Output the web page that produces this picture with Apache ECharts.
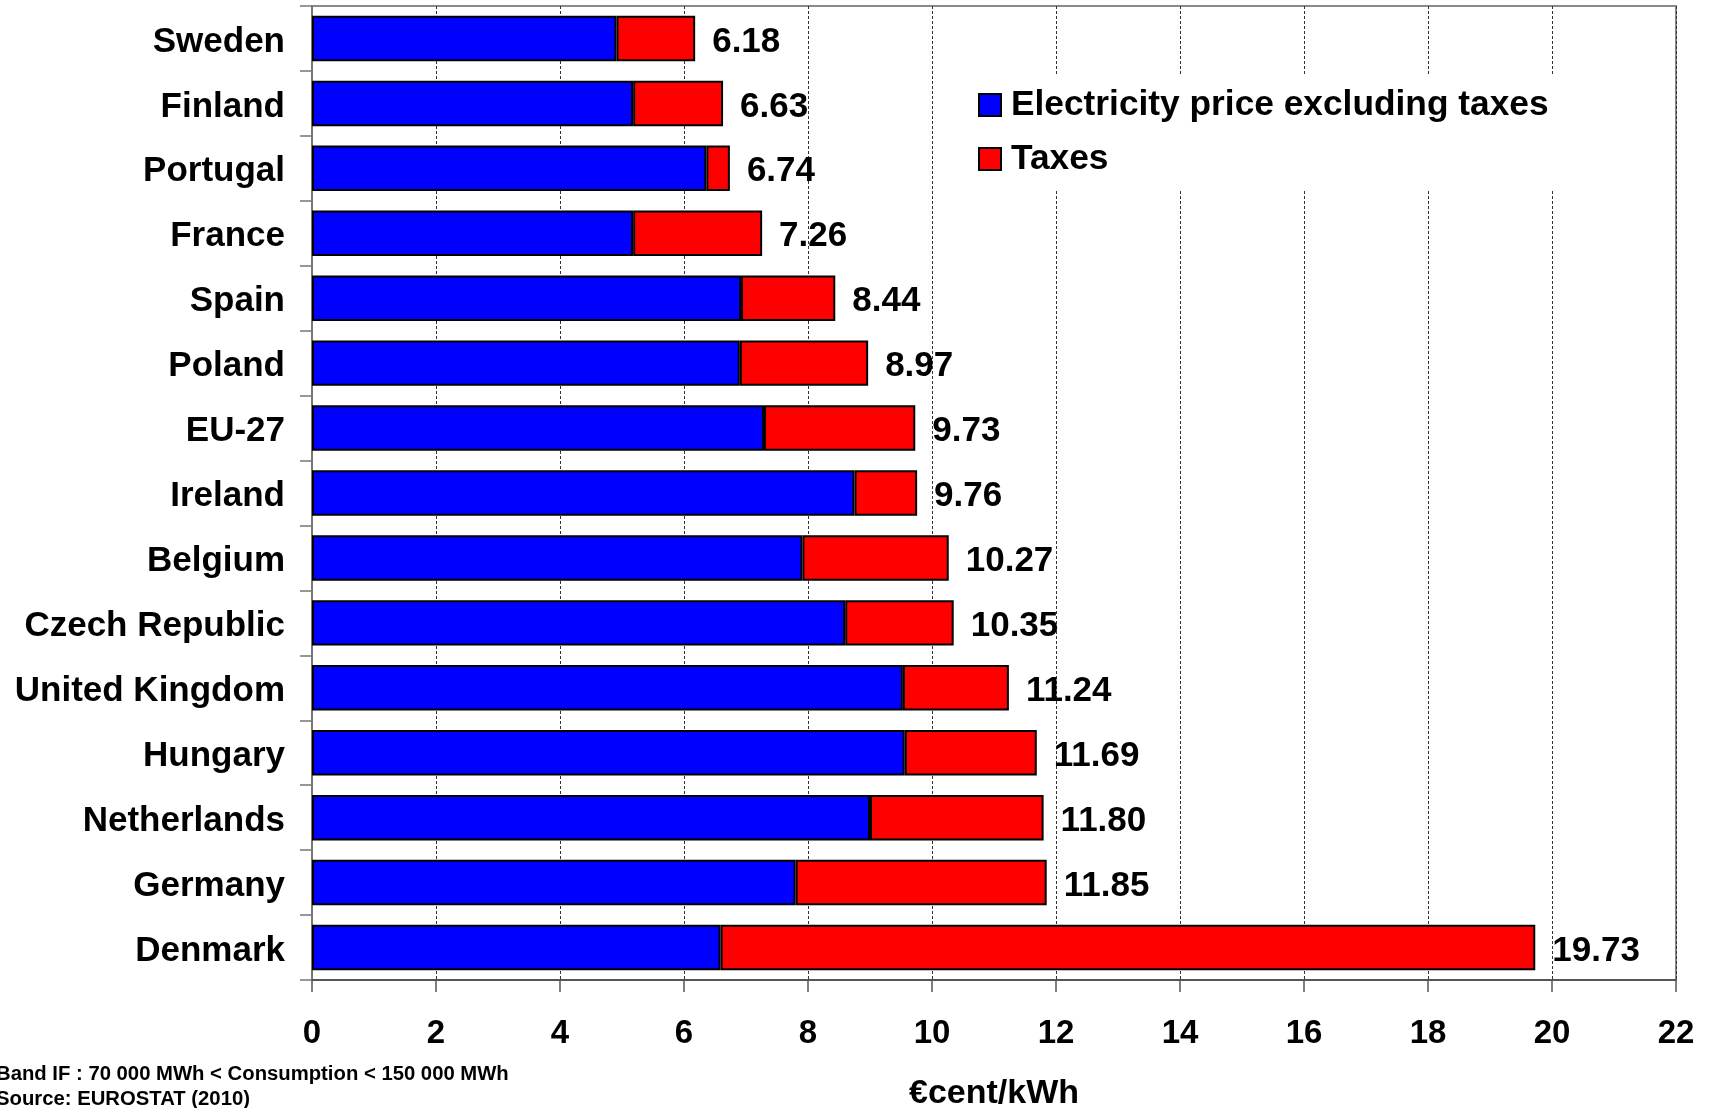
<!DOCTYPE html>
<html>
<head>
<meta charset="utf-8">
<title>Electricity prices for industrial consumers</title>
<script src="https://cdn.jsdelivr.net/npm/echarts@6/dist/echarts.min.js"></script>
<style>
  html, body { margin: 0; padding: 0; background: #fff; }
  #chart { width: 1712px; height: 1108px; }
</style>
</head>
<body>
<div id="chart"></div>
<script>
// Electricity prices, Band IF, in €cent/kWh
const countries = ['Sweden', 'Finland', 'Portugal', 'France', 'Spain', 'Poland', 'EU-27', 'Ireland',
  'Belgium', 'Czech Republic', 'United Kingdom', 'Hungary', 'Netherlands', 'Germany', 'Denmark'];
const priceExTax = [4.91, 5.18, 6.36, 5.18, 6.92, 6.90, 7.29, 8.75, 7.91, 8.60, 9.53, 9.56, 9.00, 7.80, 6.59];
const totals = [6.18, 6.63, 6.74, 7.26, 8.44, 8.97, 9.73, 9.76, 10.27, 10.35, 11.24, 11.69, 11.80, 11.85, 19.73];
const xTicks = [0, 2, 4, 6, 8, 10, 12, 14, 16, 18, 20, 22];
const footnotes = ['Band IF : 70 000 MWh < Consumption < 150 000 MWh', 'Source: EUROSTAT (2010)'];

// tax share = total price minus price excluding taxes
const taxes = totals.map((t, i) => +(t - priceExTax[i]).toFixed(2));

const FONT = '"Liberation Sans", Arial, sans-serif';
// bold label text, nudged down a little so the caps sit on the bar centre
const labelText = { fontFamily: FONT, fontWeight: 'bold', fontSize: 35, color: '#000', padding: [7, 0, 0, 0] };

const chart = echarts.init(document.getElementById('chart'), null, { renderer: 'canvas' });
chart.setOption({
  animation: false,
  backgroundColor: '#fff',
  textStyle: { fontFamily: FONT },
  grid: {
    left: 312, right: 36, top: 6, bottom: 128,
    outerBoundsMode: 'none',
    show: true, borderColor: '#8a8a8a', borderWidth: 2, backgroundColor: 'transparent'
  },
  legend: {
    orient: 'vertical',
    left: 965, top: 74,
    padding: [13, 14, 13, 13],
    backgroundColor: '#fff',
    itemWidth: 22, itemHeight: 22, itemGap: 18,
    icon: 'rect',
    textStyle: { fontFamily: FONT, fontWeight: 'bold', fontSize: 35.3, color: '#000', lineHeight: 36, padding: [0, 0, 0, 5] },
    data: ['Electricity price excluding taxes', 'Taxes']
  },
  xAxis: {
    type: 'value',
    min: xTicks[0], max: xTicks[xTicks.length - 1], interval: 2,
    name: '€cent/kWh', nameLocation: 'middle', nameGap: 97,
    nameTextStyle: { fontFamily: FONT, fontWeight: 'bold', fontSize: 34, color: '#000' },
    axisLine: { show: true, lineStyle: { color: '#555', width: 2 } },
    axisTick: { show: true, length: 12, lineStyle: { color: '#555', width: 1.5 } },
    axisLabel: { margin: 37, fontFamily: FONT, fontWeight: 'bold', fontSize: 33, color: '#000' },
    splitLine: { show: true, lineStyle: { color: '#333', width: 1, type: [3, 2] } }
  },
  yAxis: {
    type: 'category',
    inverse: true,
    data: countries,
    axisLine: { show: true, lineStyle: { color: '#777', width: 2 } },
    axisTick: { show: true, length: 12, lineStyle: { color: '#777', width: 1.5 } },
    axisLabel: {
      margin: 27,
      fontFamily: FONT, fontWeight: 'bold', fontSize: 35, color: '#000',
      formatter: v => '{c|' + v + '}',
      rich: { c: labelText }
    },
    splitLine: { show: false }
  },
  series: [
    {
      name: 'Electricity price excluding taxes',
      type: 'bar', stack: 'price', barWidth: '70%',
      itemStyle: { color: '#0000ff', borderColor: '#000', borderWidth: 2 },
      data: priceExTax
    },
    {
      name: 'Taxes',
      type: 'bar', stack: 'price', barWidth: '70%',
      itemStyle: { color: '#ff0000', borderColor: '#000', borderWidth: 2 },
      label: {
        show: true, position: 'right', distance: 17,
        fontFamily: FONT, fontWeight: 'bold', fontSize: 35, color: '#000',
        formatter: p => '{c|' + totals[p.dataIndex].toFixed(2) + '}',
        rich: { c: labelText }
      },
      data: taxes
    }
  ],
  graphic: footnotes.map((t, i) => ({
    type: 'text', left: -4, top: 1064 + i * 25,
    style: { text: t, fontFamily: FONT, fontWeight: 'bold', fontSize: 20.3, fill: '#000' }
  }))
});
</script>
</body>
</html>
